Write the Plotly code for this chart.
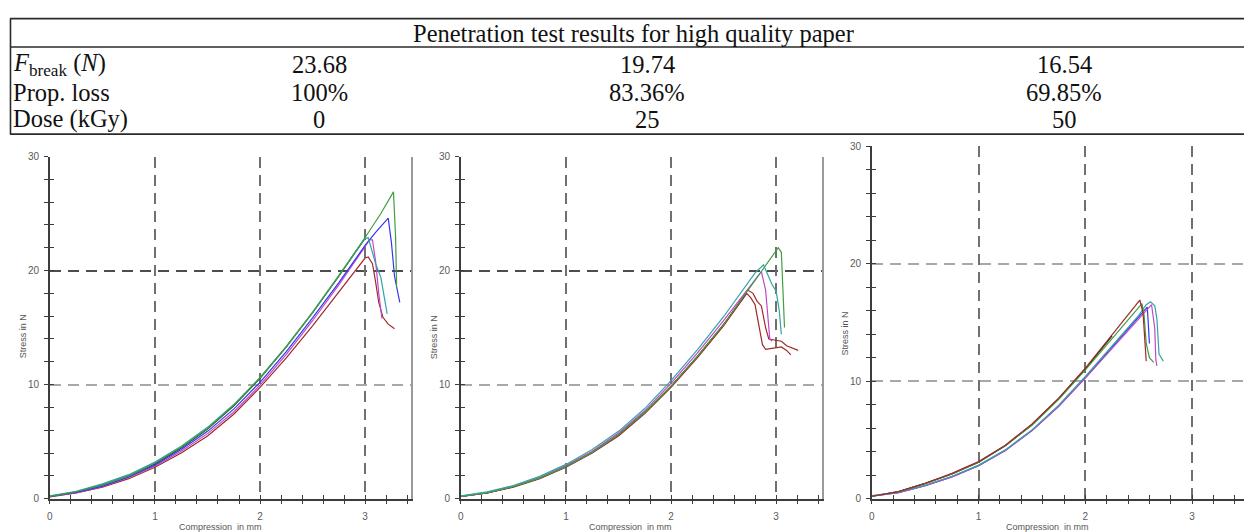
import plotly.graph_objects as go

W, H = 1244, 532

# ---------------- table data ----------------
table_title = "Penetration test results for high quality paper"
row_labels = ["<i>F</i><sub>break</sub> (<i>N</i>)", "Prop. loss", "Dose (kGy)"]
f_break = ["23.68", "19.74", "16.54"]
prop_loss = ["100%", "83.36%", "69.85%"]
dose = ["0", "25", "50"]

# ---------------- axis ticks ----------------
x_major = [0, 1, 2, 3]
x_major_labels = ["0", "1", "2", "3"]
x_minor = [0, 0.2, 0.4, 0.6, 0.8, 1.0, 1.2, 1.4, 1.6, 1.8, 2.0, 2.2, 2.4, 2.6, 2.8,
           3.0, 3.2, 3.4]
y_major = [0, 10, 20, 30]
y_major_labels = ["0", "10", "20", "30"]
y_minor = [0, 2, 4, 6, 8, 10, 12, 14, 16, 18, 20, 22, 24, 26, 28, 30]

# ---------------- chart 1 (0 kGy) ----------------
base_x = [0, 0.25, 0.5, 0.75, 1.0, 1.25, 1.5, 1.75, 2.0, 2.25, 2.5, 2.75, 3.0]

c1_black_x = base_x
c1_black_y = [0.2, 0.6, 1.2, 2.0, 3.05, 4.45, 6.1, 8.15, 10.55, 13.3, 16.3, 19.5, 22.85]
c1_green_x = base_x + [3.15, 3.27, 3.29, 3.30]
c1_green_y = [0.2, 0.6, 1.2, 2.0, 3.1, 4.5, 6.15, 8.2, 10.6, 13.35, 16.35, 19.55, 22.9, 25.0, 26.9, 23.0, 18.6]
c1_blue_x = base_x + [3.1, 3.22, 3.25, 3.28, 3.33]
c1_blue_y = [0.2, 0.55, 1.1, 1.9, 2.95, 4.3, 5.9, 7.85, 10.2, 12.9, 15.85, 18.95, 22.2, 23.35, 24.6, 22.5, 19.5, 17.2]
c1_teal_x = base_x + [3.03, 3.06, 3.1, 3.15, 3.19, 3.21]
c1_teal_y = [0.25, 0.65, 1.3, 2.1, 3.2, 4.6, 6.25, 8.25, 10.6, 13.3, 16.3, 19.5, 22.8, 22.9, 22.0, 20.6, 19.4, 17.4, 16.2]
c1_magenta_x = base_x + [3.04, 3.07, 3.1, 3.13, 3.15, 3.16]
c1_magenta_y = [0.2, 0.5, 1.05, 1.85, 2.85, 4.15, 5.7, 7.6, 9.95, 12.65, 15.6, 18.75, 22.1, 22.7, 22.7, 20.8, 18.0, 16.5, 15.8]
c1_red_x = base_x + [3.03, 3.07, 3.1, 3.13, 3.17, 3.22, 3.28]
c1_red_y = [0.15, 0.5, 1.0, 1.75, 2.75, 4.0, 5.5, 7.4, 9.75, 12.35, 15.15, 18.1, 21.1, 21.2, 20.6, 19.0, 17.2, 15.9, 15.3, 14.9]

# ---------------- chart 2 (25 kGy) ----------------
base2_x = [0, 0.25, 0.5, 0.75, 1.0, 1.25, 1.5, 1.75, 2.0, 2.25, 2.5]

c2_black_x = base2_x + [2.72]
c2_black_y = [0.2, 0.5, 1.05, 1.8, 2.8, 4.05, 5.6, 7.55, 9.85, 12.45, 15.25, 18.0]
c2_red1_x = base2_x + [2.73, 2.78, 2.82, 2.86, 2.9, 2.93, 3.0, 3.05, 3.1, 3.15, 3.21]
c2_red1_y = [0.2, 0.5, 1.05, 1.8, 2.8, 4.05, 5.6, 7.55, 9.85, 12.45, 15.25, 18.3, 18.0, 17.3, 16.9, 15.0, 14.0, 13.9, 13.8, 13.4, 13.2, 13.0]
c2_red2_x = base2_x + [2.72, 2.76, 2.8, 2.84, 2.87, 2.9, 3.0, 3.05, 3.1, 3.14]
c2_red2_y = [0.2, 0.5, 1.0, 1.75, 2.75, 4.0, 5.5, 7.45, 9.75, 12.35, 15.15, 18.0, 17.6, 17.0, 15.0, 13.5, 13.1, 13.2, 13.3, 13.0, 12.6]
c2_green_x = base2_x + [2.73, 2.9, 3.02, 3.05, 3.06, 3.08]
c2_green_y = [0.2, 0.5, 1.05, 1.8, 2.8, 4.05, 5.6, 7.55, 9.85, 12.45, 15.25, 18.2, 20.4, 22.0, 21.6, 19.0, 15.0]
c2_magenta_x = base2_x + [2.75, 2.86, 2.9, 2.92, 2.94, 2.96]
c2_magenta_y = [0.2, 0.55, 1.1, 1.85, 2.9, 4.15, 5.75, 7.7, 10.1, 12.75, 15.6, 18.6, 19.9, 18.3, 16.0, 14.0, 13.8]
c2_teal_x = base2_x + [2.75, 2.8, 2.88, 2.92, 2.96, 3.0, 3.03, 3.05]
c2_teal_y = [0.25, 0.6, 1.15, 1.95, 3.0, 4.3, 5.9, 7.9, 10.35, 13.05, 15.95, 19.1, 19.8, 20.5, 19.6, 18.8, 18.2, 16.5, 14.4]

# ---------------- chart 3 (50 kGy) ----------------
c3_black_x = [0, 0.25, 0.5, 0.75, 1.0, 1.25, 1.5, 1.75, 2.0, 2.25]
c3_black_y = [0.2, 0.6, 1.3, 2.1, 3.1, 4.5, 6.3, 8.5, 11.05, 13.85]
c3_red_x = base2_x + [2.51, 2.54, 2.56, 2.57]
c3_red_y = [0.2, 0.6, 1.3, 2.15, 3.15, 4.55, 6.35, 8.55, 11.1, 13.9, 16.8, 16.9, 15.8, 13.0, 11.7]
c3_green_x = base2_x + [2.53, 2.55, 2.57, 2.6, 2.64]
c3_green_y = [0.2, 0.6, 1.3, 2.1, 3.1, 4.5, 6.25, 8.45, 10.95, 13.65, 16.3, 16.6, 15.6, 13.2, 12.0, 11.6]
c3_blue_x = base2_x + [2.58, 2.59, 2.6]
c3_blue_y = [0.2, 0.5, 1.1, 1.85, 2.8, 4.1, 5.8, 7.85, 10.3, 12.85, 15.45, 16.3, 14.8, 13.2]
c3_magenta_x = base2_x + [2.62, 2.65, 2.66, 2.67]
c3_magenta_y = [0.2, 0.5, 1.1, 1.85, 2.8, 4.1, 5.8, 7.85, 10.25, 12.8, 15.35, 16.5, 14.5, 11.8, 11.3]
c3_teal_x = base2_x + [2.57, 2.61, 2.65, 2.67, 2.69, 2.73]
c3_teal_y = [0.25, 0.55, 1.15, 1.9, 2.85, 4.15, 5.85, 7.95, 10.4, 13.0, 15.6, 16.5, 16.75, 16.4, 15.3, 12.3, 11.7]

COL = dict(black="#202020", green="#3f9f3f", blue="#3535f0", teal="#34a3a3",
           magenta="#c048c8", red="#a02a2a")

chart_curves = [
    [("black", c1_black_x, c1_black_y), ("red", c1_red_x, c1_red_y),
     ("magenta", c1_magenta_x, c1_magenta_y), ("blue", c1_blue_x, c1_blue_y),
     ("teal", c1_teal_x, c1_teal_y), ("green", c1_green_x, c1_green_y)],
    [("black", c2_black_x, c2_black_y), ("red", c2_red1_x, c2_red1_y),
     ("red", c2_red2_x, c2_red2_y), ("magenta", c2_magenta_x, c2_magenta_y),
     ("green", c2_green_x, c2_green_y), ("teal", c2_teal_x, c2_teal_y)],
    [("black", c3_black_x, c3_black_y), ("blue", c3_blue_x, c3_blue_y),
     ("magenta", c3_magenta_x, c3_magenta_y), ("teal", c3_teal_x, c3_teal_y),
     ("green", c3_green_x, c3_green_y), ("red", c3_red_x, c3_red_y)],
]

x_label = "Compression  in mm"
y_label = "Stress in N"

# pixel geometry of the three panels
panels = [
    dict(x0=47, x1=409, y0=504, y1=154, xmax=3.437, frame=True, dark20=True, xt=218, yt=20, ytc=338),
    dict(x0=459, x1=821, y0=504, y1=154, xmax=3.437, frame=True, dark20=True, xt=629, yt=432, ytc=339),
    dict(x0=871, x1=1244, y0=504, y1=143.3, xmax=3.486, frame=False, dark20=False, xt=1047, yt=844, ytc=335),
]


def fx(p):
    return p / W


def fy(p):
    return 1 - p / H


def labels_for(vals, major, major_labels):
    lut = dict(zip(major, major_labels))
    return [lut.get(v, " ") for v in vals]


fig = go.Figure()
layout = {}
TICKF = dict(family="Liberation Sans, Arial, sans-serif", size=10, color="#5a5a5a")
AXC = "#3c3c3c"
DASH = "11px,7px"
TL = 4
TW = 1.4


def name(kind, k):
    return kind if k == 1 else f"{kind}{k}"


for i, (pn, curves) in enumerate(zip(panels, chart_curves)):
    n = i + 1
    xa, xo, xg = name("x", n), name("x", n + 3), name("x", n + 6)
    ya, yo, yg, yd = name("y", n), name("y", n + 3), name("y", n + 6), name("y", n + 9)
    xdom = [fx(pn["x0"]), min(1.0, fx(pn["x1"]))]
    ydom = [fy(pn["y0"]), fy(pn["y1"])]
    xr = [0, pn["xmax"]]
    yrg = [0, 30]

    for cname, xs, ys in curves:
        fig.add_trace(go.Scatter(x=xs, y=ys, mode="lines", xaxis=xa, yaxis=ya,
                                 line=dict(color=COL[cname], width=1.2),
                                 showlegend=False, hoverinfo="skip"))
    for (tx, ty) in [(xo, ya), (xg, ya), (xa, yo), (xa, yg), (xa, yd)]:
        fig.add_trace(go.Scatter(x=[None], y=[None], xaxis=tx, yaxis=ty,
                                 showlegend=False, hoverinfo="skip"))

    common = dict(zeroline=False, fixedrange=True)
    layout["xaxis" + ("" if n == 1 else str(n))] = dict(
        domain=xdom, anchor=ya, range=xr, tickmode="array", tickvals=x_minor,
        ticktext=labels_for(x_minor, x_major, x_major_labels),
        showline=True, linecolor=AXC, linewidth=1.5, ticks="outside", ticklen=TL,
        tickcolor=AXC, tickwidth=TW, tickfont=TICKF, ticklabelstandoff=4,
        showgrid=False, **common)
    layout["yaxis" + ("" if n == 1 else str(n))] = dict(
        domain=ydom, anchor=xa, range=yrg, tickmode="array", tickvals=y_minor,
        ticktext=labels_for(y_minor, y_major, y_major_labels),
        showline=True, linecolor=AXC, linewidth=1.5, ticks="outside", ticklen=TL,
        tickcolor=AXC, tickwidth=TW, tickfont=TICKF, ticklabelstandoff=3,
        showgrid=False, **common)
    layout[f"xaxis{n + 3}"] = dict(
        overlaying=xa, anchor=ya, range=xr, tickmode="array", tickvals=x_minor,
        ticks="inside", ticklen=TL, tickcolor=AXC, tickwidth=TW, showticklabels=False,
        showgrid=False, showline=False, **common)
    layout[f"yaxis{n + 3}"] = dict(
        overlaying=ya, anchor=xa, range=yrg, tickmode="array", tickvals=y_minor,
        ticks="inside", ticklen=TL, tickcolor=AXC, tickwidth=TW, showticklabels=False,
        showgrid=False, showline=False, **common)
    layout[f"xaxis{n + 6}"] = dict(
        overlaying=xa, anchor=ya, range=xr, tickmode="array", tickvals=x_major[1:],
        ticks="", showticklabels=False, showline=False,
        showgrid=True, gridcolor="#707070", gridwidth=1.5, griddash=DASH, **common)
    layout[f"yaxis{n + 6}"] = dict(
        overlaying=ya, anchor=xa, side="right", range=yrg, tickmode="array",
        tickvals=[10, 30], ticks="", showticklabels=False,
        showline=pn["frame"], linecolor="#9a9a9a", linewidth=1.5,
        showgrid=True, gridcolor="#a8a8a8", gridwidth=1.5, griddash=DASH, **common)
    layout[f"yaxis{n + 9}"] = dict(
        overlaying=ya, anchor=xa, range=yrg, tickmode="array", tickvals=[20],
        ticks="", showticklabels=False, showline=False,
        showgrid=True, gridcolor="#4d4d4d" if pn["dark20"] else "#a8a8a8",
        gridwidth=1.8 if pn["dark20"] else 1.5, griddash=DASH, **common)

fig.update_layout(**layout)

ann = []
AXT = dict(family="Liberation Sans, Arial, sans-serif", size=9, color="#555")
for pn in panels:
    ann.append(dict(text=x_label, x=fx(pn["xt"]), y=fy(526), xref="paper", yref="paper",
                    xanchor="center", yanchor="top", showarrow=False, font=AXT))
    ann.append(dict(text=y_label, x=fx(pn["yt"]), y=fy(pn["ytc"]), xref="paper", yref="paper",
                    xanchor="center", yanchor="middle", showarrow=False, font=AXT, textangle=-90))

SERIF = dict(family="'Liberation Serif', 'Times New Roman', serif", size=24.5, color="#111")
ann.append(dict(text=table_title, x=fx(632), y=fy(28), xref="paper", yref="paper",
                xanchor="center", yanchor="middle", showarrow=False, font=SERIF))
row_y = [60, 88, 116]
col_x = [317, 646, 1064]
rows = [f_break, prop_loss, dose]
for ry, lab, vals in zip(row_y, row_labels, rows):
    ann.append(dict(text=lab, x=fx(8), y=fy(ry), xref="paper", yref="paper",
                    xanchor="left", yanchor="middle", showarrow=False, font=SERIF))
    for cx, v in zip(col_x, vals):
        ann.append(dict(text=v, x=fx(cx), y=fy(ry), xref="paper", yref="paper",
                        xanchor="center", yanchor="middle", showarrow=False, font=SERIF))

shapes = []
LC = "#2a2a2a"
for yy, wdt in [(13, 1.8), (42, 1.4), (131, 1.8)]:
    shapes.append(dict(type="line", xref="paper", yref="paper", x0=fx(7), x1=1.0,
                       y0=fy(yy), y1=fy(yy), line=dict(color=LC, width=wdt)))
shapes.append(dict(type="line", xref="paper", yref="paper", x0=fx(7.5), x1=fx(7.5),
                   y0=fy(13), y1=fy(131), line=dict(color=LC, width=1.6)))

fig.update_layout(width=W, height=H, margin=dict(l=0, r=0, t=0, b=0),
                  paper_bgcolor="white", plot_bgcolor="white",
                  annotations=ann, shapes=shapes, showlegend=False)

fig.write_html("out.html", config={"displayModeBar": False})
